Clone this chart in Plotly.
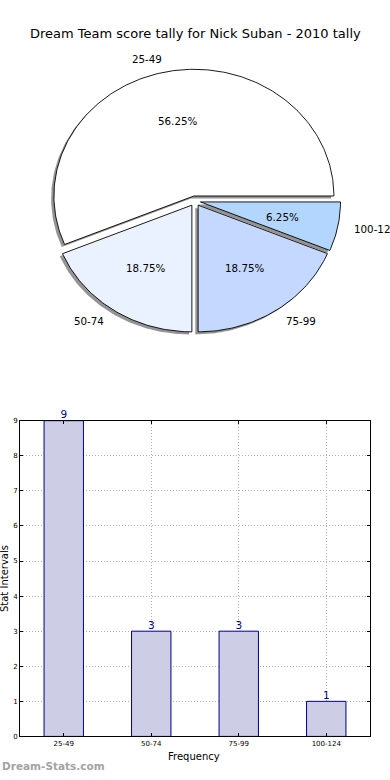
import numpy as np
import plotly.graph_objects as go

title = "Dream Team score tally for Nick Suban - 2010 tally"
categories = ["25-49", "50-74", "75-99", "100-124"]
counts = [9, 3, 3, 1]
pie_colors = ["#ffffff", "#ebf2ff", "#c5d8ff", "#b3d6ff"]
explode = [0.04, 0.04, 0.04, 0.04]
y_ticks = list(range(0, 10))

W, H = 390, 780
FONT = "DejaVu Sans"
# pie geometry (pixels)
cx_px, cy_px = 195, 199
rx_px, ry_px = 140, 128
pie_h_px = 390

fig = go.Figure()

total = sum(counts)
fracs = [c / total for c in counts]

wedges = []
start = 0.0
for i, f in enumerate(fracs):
    a0, a1 = start * 360, (start + f) * 360
    mid = np.deg2rad((a0 + a1) / 2)
    ox, oy = explode[i] * np.cos(mid), explode[i] * np.sin(mid)
    th = np.deg2rad(np.linspace(a0, a1, int(abs(a1 - a0)) + 2))
    xs = np.concatenate([[ox], ox + np.cos(th), [ox]])
    ys = np.concatenate([[oy], oy + np.sin(th), [oy]])
    wedges.append((xs, ys, mid, ox, oy))
    start += f

# shadows first
for i, (xs, ys, mid, ox, oy) in enumerate(wedges):
    fig.add_trace(go.Scatter(x=xs - 0.02, y=ys - 0.02, xaxis="x2", yaxis="y2",
                             fill="toself", fillcolor="rgba(60,60,60,0.55)",
                             line=dict(width=0), mode="lines", hoverinfo="skip",
                             showlegend=False))
for i, (xs, ys, mid, ox, oy) in enumerate(wedges):
    fig.add_trace(go.Scatter(x=xs, y=ys, xaxis="x2", yaxis="y2",
                             fill="toself", fillcolor=pie_colors[i],
                             line=dict(width=0.9, color="black"), mode="lines",
                             hoverinfo="skip", showlegend=False))

annotations = []
for i, (xs, ys, mid, ox, oy) in enumerate(wedges):
    lx = ox + 1.1 * np.cos(mid)
    ly = oy + 1.1 * np.sin(mid)
    annotations.append(dict(x=lx, y=ly, xref="x2", yref="y2", text=categories[i],
                            showarrow=False, xanchor="left" if lx > 0 else "right",
                            yanchor="middle", font=dict(size=10.3, color="black", family=FONT)))
    px = ox + 0.6 * np.cos(mid)
    py = oy + 0.6 * np.sin(mid)
    annotations.append(dict(x=px, y=py, xref="x2", yref="y2",
                            text="%.2f%%" % (fracs[i] * 100),
                            showarrow=False, xanchor="center", yanchor="middle",
                            font=dict(size=10.3, color="black", family=FONT)))

# bars
fig.add_trace(go.Bar(x=categories, y=counts, width=0.45,
                     marker=dict(color="rgb(205,205,229)", line=dict(color="#000080", width=1)),
                     hoverinfo="skip", showlegend=False))
fig.add_trace(go.Scatter(x=categories, y=counts, mode="text", text=[str(c) for c in counts],
                         textposition="top center", cliponaxis=False,
                         textfont=dict(size=10.5, color="#00008b", family=FONT),
                         hoverinfo="skip", showlegend=False))

annotations += [
    dict(x=0.5, y=1 - 30 / H, xref="paper", yref="paper", text=title, showarrow=False,
         xanchor="center", yanchor="middle", font=dict(size=13, color="black", family=FONT)),
    dict(x=194 / W, y=1 - 760 / H, xref="paper", yref="paper", text="Frequency",
         showarrow=False, xanchor="center", yanchor="middle",
         font=dict(size=10, color="black", family=FONT)),
    dict(x=4 / W, y=1 - 581 / H, xref="paper", yref="paper", text="Stat Intervals",
         showarrow=False, xanchor="center", yanchor="middle", textangle=-90,
         font=dict(size=10, color="black", family=FONT)),
    dict(x=0, y=1 - 770 / H, xref="paper", yref="paper", text="<b>Dream-Stats.com</b>",
         showarrow=False, xanchor="left", yanchor="middle",
         font=dict(size=10.5, color="#a3a3a3", family=FONT)),
]

grid = dict(showgrid=True, gridcolor="#b0b0b0", griddash="1px,2px", gridwidth=1)
fig.update_layout(
    width=W, height=H, margin=dict(l=0, r=0, t=0, b=0),
    paper_bgcolor="white", plot_bgcolor="white",
    font=dict(family=FONT),
    annotations=annotations,
    xaxis=dict(domain=[20 / W, 370 / W], range=[-0.5, 3.5], type="category",
               showline=True, mirror="ticks", linecolor="black", linewidth=1,
               ticks="inside", ticklen=3, tickcolor="black",
               tickfont=dict(size=7, color="black", family=FONT), zeroline=False, **grid),
    yaxis=dict(domain=[(H - 740) / H, (H - 421) / H], range=[0, 9],
               tickvals=y_ticks, showline=True, mirror="ticks", linecolor="black",
               linewidth=1, ticks="inside", ticklen=3, tickcolor="black",
               tickfont=dict(size=7, color="black", family=FONT), zeroline=False, **grid),
    xaxis2=dict(domain=[0, 1], range=[-cx_px / rx_px, (W - cx_px) / rx_px],
                visible=False, anchor="y2"),
    yaxis2=dict(domain=[1 - pie_h_px / H, 1],
                range=[-(pie_h_px - cy_px) / ry_px, cy_px / ry_px],
                visible=False, anchor="x2"),
)

fig.write_html(
    "out.html", config={"displayModeBar": False},
    post_script=(
        "document.documentElement.style.margin='0px';"
        "document.documentElement.style.overflow='hidden';"
        "document.body.style.margin='0px';document.body.style.overflow='hidden';"
        "var d=document.getElementById('{plot_id}');"
        "d.style.position='fixed';d.style.left='0px';d.style.top='0px';"
    ),
)
